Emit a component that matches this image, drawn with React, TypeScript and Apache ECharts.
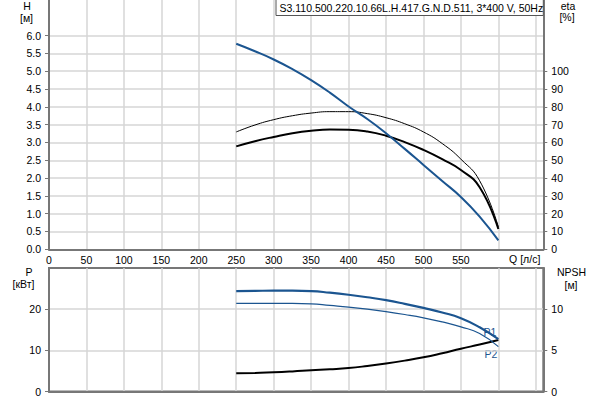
import React, { useEffect, useRef } from "react";
import * as echarts from "echarts";

// Flow Q in л/с (shared by all curves)
const flowQ = [250, 275, 300, 325, 350, 375, 400, 425, 450, 475, 500, 525, 550, 575, 600];

// Top chart
const headH = [5.77, 5.56, 5.33, 5.06, 4.75, 4.4, 4.01, 3.66, 3.26, 2.82, 2.37, 1.92, 1.47, 0.92, 0.25];
const etaThin = [65.9, 69.8, 72.8, 75.0, 76.5, 77.3, 77.3, 76.2, 73.9, 70.5, 65.9, 59.4, 50.6, 38.5, 12.5];
const etaThick = [57.8, 60.7, 63.1, 65.2, 66.6, 67.3, 67.2, 66.2, 63.8, 60.2, 55.8, 50.6, 44.5, 34.8, 11.4];

// Bottom chart
const powerP1 = [24.4, 24.45, 24.5, 24.5, 24.4, 24.0, 23.5, 22.9, 22.2, 21.3, 20.3, 19.2, 17.8, 15.6, 12.7];
const powerP2 = [21.4, 21.4, 21.4, 21.4, 21.3, 20.9, 20.5, 20.0, 19.4, 18.7, 17.9, 16.9, 15.7, 14.1, 10.9];
const npsh = [2.21, 2.26, 2.33, 2.44, 2.58, 2.7, 2.85, 3.1, 3.4, 3.75, 4.15, 4.65, 5.2, 5.7, 6.25];

// Tick labels
const hTicks = [0, 0.5, 1, 1.5, 2, 2.5, 3, 3.5, 4, 4.5, 5, 5.5, 6];
const etaTicks = [0, 10, 20, 30, 40, 50, 60, 70, 80, 90, 100];
const pTicks = [0, 10, 20];
const npshTicks = [0, 5, 10];

const title = "S3.110.500.220.10.66L.H.417.G.N.D.511, 3*400 V, 50Hz";

const FONT = 'Arial, "Liberation Sans", sans-serif';
const AXIS = "#777777";
const GRID = "#d6d6d6";
const BLUE = "#1b5590";
const FS = 10.5;

const pairs = (xs: number[], ys: number[]) => xs.map((x, i) => [x, ys[i]]);

export default function App() {
  const ref = useRef<HTMLDivElement>(null);
  useEffect(() => {
    if (!ref.current) return;
    const chart = echarts.init(ref.current, null, { renderer: "svg" });
    const label = (color = "#000") => ({
      color,
      fontSize: FS,
      fontFamily: FONT,
    });
    const txt = (t: string, x: number, y: number, color = "#000") => ({
      type: "text",
      x,
      y,
      style: {
        text: t,
        fill: color,
        font: `${FS}px ${FONT}`,
        align: "center",
        verticalAlign: "middle",
      },
    });
    const curve = (
      name: string,
      xi: number,
      yi: number,
      data: number[][],
      color: string,
      width: number
    ) => ({
      name,
      type: "line",
      xAxisIndex: xi,
      yAxisIndex: yi,
      data,
      smooth: 0.5,
      symbol: "none",
      lineStyle: { color, width },
    });
    const option: any = {
      animation: false,
      backgroundColor: "#fff",
      grid: [
        { left: 49, right: 56.7, top: -0.7, height: 250, show: false },
        {
          left: 49,
          right: 56.7,
          top: 268,
          height: 123.5,
          show: true,
          borderColor: AXIS,
          borderWidth: 2,
        },
      ],
      xAxis: [
        {
          type: "value",
          gridIndex: 0,
          min: 0,
          max: 660,
          interval: 50,
          axisLine: { show: true, lineStyle: { color: AXIS, width: 2 } },
          axisTick: { show: false },
          axisLabel: {
            ...label(),
            margin: 5,
            formatter: (v: number) => (v >= 600 ? "" : String(v)),
          },
          splitLine: { show: true, lineStyle: { color: GRID, width: 1.5 } },
        },
        {
          type: "value",
          gridIndex: 1,
          min: 0,
          max: 660,
          interval: 50,
          axisLine: { show: true, lineStyle: { color: AXIS, width: 2 } },
          axisTick: { show: false },
          axisLabel: { show: false },
          splitLine: { show: true, lineStyle: { color: GRID, width: 1.5 } },
        },
      ],
      yAxis: [
        {
          type: "value",
          gridIndex: 0,
          position: "left",
          min: 0,
          max: 7,
          interval: 0.5,
          axisLine: { show: true, lineStyle: { color: AXIS, width: 2 } },
          axisTick: {
            show: true,
            length: 4,
            customValues: hTicks,
            lineStyle: { color: AXIS },
          },
          axisLabel: {
            ...label(),
            margin: 8,
            customValues: hTicks,
            formatter: (v: number) => v.toFixed(1),
          },
          splitLine: { show: true, lineStyle: { color: GRID, width: 1.5 } },
        },
        {
          type: "value",
          gridIndex: 0,
          position: "right",
          min: 0,
          max: 140,
          interval: 10,
          axisLine: { show: true, lineStyle: { color: AXIS, width: 2 } },
          axisTick: {
            show: true,
            length: 4,
            customValues: etaTicks,
            lineStyle: { color: AXIS },
          },
          axisLabel: { ...label(), margin: 8, customValues: etaTicks },
          splitLine: { show: false },
        },
        {
          type: "value",
          gridIndex: 1,
          position: "left",
          min: 0,
          max: 30,
          interval: 10,
          axisLine: { show: true, lineStyle: { color: AXIS, width: 2 } },
          axisTick: {
            show: true,
            length: 4,
            customValues: pTicks,
            lineStyle: { color: AXIS },
          },
          axisLabel: { ...label(), margin: 8, customValues: pTicks },
          splitLine: { show: true, lineStyle: { color: GRID, width: 1.5 } },
        },
        {
          type: "value",
          gridIndex: 1,
          position: "right",
          min: 0,
          max: 15,
          interval: 5,
          axisLine: { show: true, lineStyle: { color: AXIS, width: 2 } },
          axisTick: {
            show: true,
            length: 4,
            customValues: npshTicks,
            lineStyle: { color: AXIS },
          },
          axisLabel: { ...label(), margin: 8, customValues: npshTicks },
          splitLine: { show: false },
        },
      ],
      series: [
        curve("eta1", 0, 1, pairs(flowQ, etaThin), "#000", 1),
        curve("eta", 0, 1, pairs(flowQ, etaThick), "#000", 2),
        curve("H", 0, 0, pairs(flowQ, headH), BLUE, 2),
        curve("NPSH", 1, 3, pairs(flowQ, npsh), "#000", 2),
        curve("P2", 1, 2, pairs(flowQ, powerP2), BLUE, 1.2),
        curve("P1", 1, 2, pairs(flowQ, powerP1), BLUE, 2.2),
      ],
      graphic: [
        {
          type: "rect",
          shape: { x: 276, y: -1, width: 267.3, height: 16.5 },
          style: { fill: "#fff", stroke: "#555", lineWidth: 1 },
          z: 100,
        },
        {
          type: "text",
          x: 279.5,
          y: 7.5,
          z: 101,
          style: {
            text: title,
            fill: "#000",
            font: `${FS}px ${FONT}`,
            align: "left",
            verticalAlign: "middle",
          },
        },
        txt("H", 27, 5.5),
        txt("[м]", 26.5, 17.5),
        txt("eta", 568, 5.5),
        txt("[%]", 567, 17),
        txt("P", 29, 271.5),
        txt("[кВт]", 23.5, 284),
        txt("NPSH", 571.5, 272),
        txt("[м]", 571, 284.7),
        txt("Q [л/с]", 524.7, 259),
        txt("P1", 490, 332, BLUE),
        txt("P2", 491, 354, BLUE),
      ],
    };
    chart.setOption(option);
    return () => chart.dispose();
  }, []);
  return (
    <div
      ref={ref}
      style={{ position: "fixed", left: 0, top: 0, width: 600, height: 400 }}
    />
  );
}
